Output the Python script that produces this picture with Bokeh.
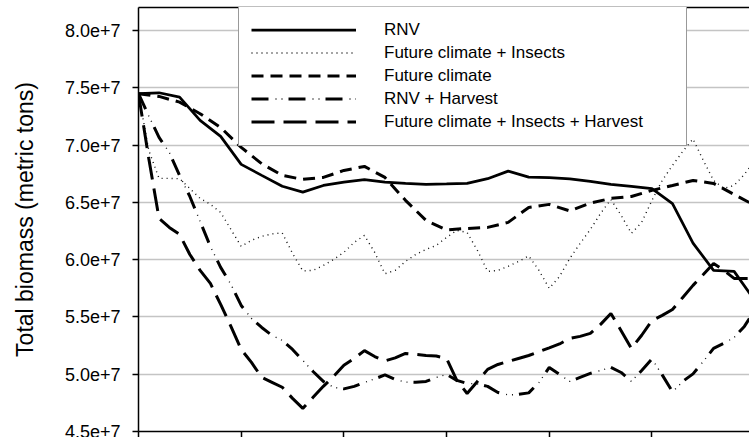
from bokeh.plotting import figure
from bokeh.models import Range1d, FixedTicker, Legend, LegendItem, LinearAxis
from bokeh.embed import file_html
from bokeh.resources import INLINE

# ---------------- data (biomass in units of 1e7 metric tons) ----------------
SCALE = 1e7
years_2 = list(range(0, 61, 2))   # series sampled every 2 steps
years_1 = list(range(0, 61))      # series sampled every step

rnv = [7.448, 7.456, 7.418, 7.215, 7.075, 6.831, 6.735, 6.64, 6.589, 6.647,
       6.676, 6.697, 6.676, 6.665, 6.656, 6.66, 6.665, 6.706, 6.772, 6.72,
       6.715, 6.705, 6.682, 6.656, 6.64, 6.619, 6.488, 6.144, 5.906, 5.897, 5.644]

future_climate = [7.448, 7.424, 7.374, 7.273, 7.153, 6.979, 6.837, 6.735, 6.70, 6.717,
                  6.778, 6.813, 6.717, 6.517, 6.342, 6.259, 6.272, 6.281, 6.325, 6.455,
                  6.482, 6.425, 6.493, 6.534, 6.551, 6.604, 6.647, 6.691, 6.665, 6.569, 6.473]

fc_insects = [7.448, 6.953, 6.709, 6.709, 6.706, 6.621, 6.534, 6.482, 6.412, 6.263,
              6.115, 6.168, 6.203, 6.224, 6.233, 6.054, 5.901, 5.906, 5.949, 6.002,
              6.063, 6.15, 6.211, 6.063, 5.877, 5.906, 5.984, 6.045, 6.089, 6.124,
              6.194, 6.255, 6.237, 6.081, 5.897, 5.906, 5.941, 5.984, 6.032, 5.906,
              5.749, 5.853, 6.01, 6.141, 6.263, 6.403, 6.525, 6.386, 6.229, 6.325,
              6.517, 6.691, 6.822, 6.944, 7.053, 6.866, 6.691, 6.621, 6.647, 6.743, 6.866]

rnv_harvest = [7.448, 7.254, 7.066, 6.935, 6.735, 6.551, 6.333, 6.115, 5.932, 5.784,
               5.60, 5.487, 5.408, 5.339, 5.295, 5.216, 5.12, 5.024, 4.937, 4.885,
               4.872, 4.894, 4.928, 4.959, 4.994, 4.955, 4.931, 4.929, 4.937, 4.972,
               4.998, 4.946, 4.92, 4.915, 4.894, 4.841, 4.819, 4.824, 4.837, 4.928,
               5.059, 4.998, 4.937, 4.972, 5.007, 5.033, 5.059, 5.015, 4.937, 5.033,
               5.133, 4.994, 4.846, 4.937, 5.003, 5.112, 5.225, 5.269, 5.321, 5.417, 5.557]

fc_insects_harvest = [7.448, 6.883, 6.359, 6.281, 6.22, 6.045, 5.906, 5.792, 5.609, 5.417,
                      5.216, 5.103, 4.972, 4.929, 4.886, 4.789, 4.702, 4.798, 4.894, 4.981,
                      5.078, 5.137, 5.206, 5.154, 5.116, 5.142, 5.181, 5.173, 5.164, 5.159,
                      5.137, 4.946, 4.832, 4.937, 5.042, 5.085, 5.111, 5.137, 5.163, 5.197,
                      5.23, 5.264, 5.312, 5.33, 5.356, 5.435, 5.53, 5.38, 5.225, 5.34,
                      5.468, 5.513, 5.565, 5.67, 5.775, 5.87, 5.966, 5.906, 5.836, 5.836, 5.836]

series_names = ["RNV", "Future climate + Insects", "Future climate",
                "RNV + Harvest", "Future climate + Insects + Harvest"]

y_ticks = [45000000, 50000000, 55000000, 60000000, 65000000, 70000000, 75000000, 80000000]
y_tick_labels = ["4.5e+7", "5.0e+7", "5.5e+7", "6.0e+7", "6.5e+7", "7.0e+7", "7.5e+7", "8.0e+7"]
x_ticks = [0, 10, 20, 30, 40, 50]


def sc(vals):
    return [v * SCALE for v in vals]


FONT = "Liberation Sans"

p = figure(width=749, height=437, output_backend="svg", toolbar_location=None,
           x_range=Range1d(0, 59.5), y_range=Range1d(4.5e7, 8.2e7),
           min_border_left=138, min_border_right=0, min_border_top=7, min_border_bottom=6)
p.outline_line_color = None
p.background_fill_color = "white"
p.border_fill_color = "white"

# y axis
ya = p.yaxis[0]
ya.ticker = FixedTicker(ticks=y_ticks)
ya.major_label_overrides = {float(t): l for t, l in zip(y_ticks, y_tick_labels)}
ya.major_label_text_font = FONT
ya.major_label_text_font_size = "18px"
ya.major_label_text_color = "black"
ya.major_label_standoff = 12
ya.major_tick_out = 6
ya.major_tick_in = 0
ya.minor_tick_line_color = None
ya.major_tick_line_color = "black"
ya.major_tick_line_width = 1.5
ya.axis_line_color = "black"
ya.axis_line_width = 1.5
ya.axis_label = "Total biomass (metric tons)"
ya.axis_label_text_font = FONT
ya.axis_label_text_font_size = "23px"
ya.axis_label_text_font_style = "normal"
ya.axis_label_text_color = "black"
ya.axis_label_standoff = 24

# x axis (tick labels are cut off in the reference)
xa = p.xaxis[0]
xa.ticker = FixedTicker(ticks=x_ticks)
xa.major_label_text_font_size = "1px"
xa.major_label_text_color = None
xa.major_label_standoff = 0
xa.major_tick_out = 6
xa.major_tick_in = 0
xa.minor_tick_line_color = None
xa.major_tick_line_color = "black"
xa.major_tick_line_width = 1.5
xa.axis_line_color = "black"
xa.axis_line_width = 1.5

# top border line
top = LinearAxis(ticker=FixedTicker(ticks=[]), major_label_text_font_size="1px",
                 major_label_text_color=None,
                 major_label_standoff=0, major_tick_out=0, major_tick_in=0,
                 minor_tick_line_color=None, axis_line_color="black", axis_line_width=1.5)
p.add_layout(top, "above")

p.xgrid.visible = False
p.ygrid.grid_line_color = "#c4c4c4"
p.ygrid.grid_line_width = 1.5

r_rnv = p.line(years_2, sc(rnv), line_color="black", line_width=2.75)
r_fci = p.line(years_1, sc(fc_insects), line_color="#111111", line_width=1.4, line_dash="1 4")
r_fc = p.line(years_2, sc(future_climate), line_color="black", line_width=3, line_dash="12 7")
r_rh_a = p.line(years_1, sc(rnv_harvest), line_color="black", line_width=3, line_dash="17 20")
r_rh_b = p.line(years_1, sc(rnv_harvest), line_color="#111111", line_width=1.4,
                line_dash="1 5 1 30", line_dash_offset=13)
r_fcih = p.line(years_1, sc(fc_insects_harvest), line_color="black", line_width=3, line_dash="23 9")

items = [
    LegendItem(label=series_names[0], renderers=[r_rnv]),
    LegendItem(label=series_names[1], renderers=[r_fci]),
    LegendItem(label=series_names[2], renderers=[r_fc]),
    LegendItem(label=series_names[3], renderers=[r_rh_a, r_rh_b]),
    LegendItem(label=series_names[4], renderers=[r_fcih]),
]
legend = Legend(items=items, location=(100, 285), orientation="vertical",
                border_line_color="#333333", border_line_width=1.5,
                background_fill_color="white", background_fill_alpha=1.0,
                padding=12, spacing=0, margin=0,
                glyph_width=105, glyph_height=23, label_height=23, label_width=290,
                label_standoff=28, label_text_font=FONT, label_text_font_size="17px",
                label_text_color="black")
p.add_layout(legend, "center")

open("out.html", "w").write(file_html(p, INLINE))
